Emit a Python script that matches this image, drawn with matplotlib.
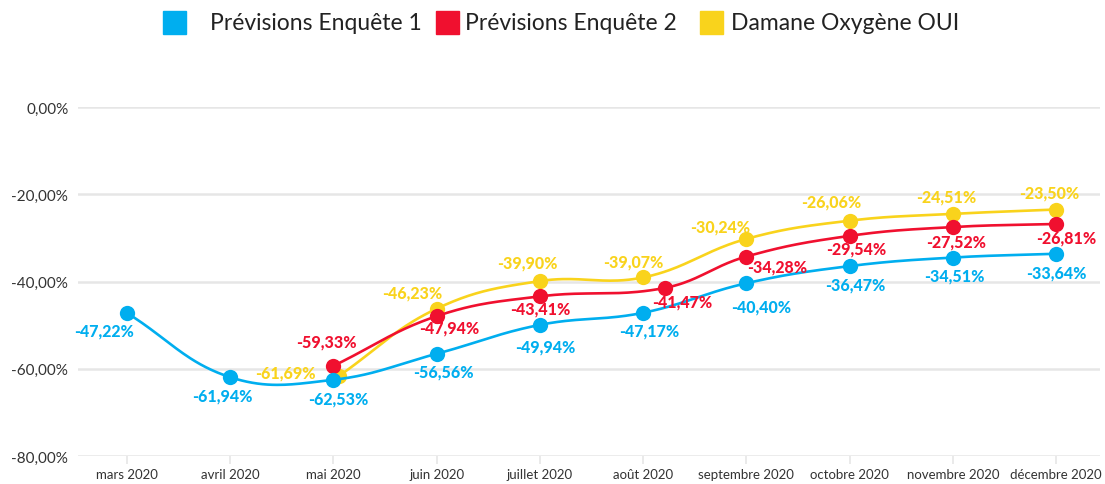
import numpy as np
import matplotlib
matplotlib.use("Agg")
import matplotlib.pyplot as plt
from matplotlib.patches import Rectangle

plt.rcParams['font.family'] = ['Lato', 'DejaVu Sans']

# ---------------- data ----------------
months = ["mars 2020", "avril 2020", "mai 2020", "juin 2020", "juillet 2020",
          "août 2020", "septembre 2020", "octobre 2020", "novembre 2020", "décembre 2020"]

s1_name = "Prévisions Enquête 1"
s1_x = [0, 1, 2, 3, 4, 5, 6, 7, 8, 9]
s1_y = [-47.22, -61.94, -62.53, -56.56, -49.94, -47.17, -40.40, -36.47, -34.51, -33.64]

s2_name = "Prévisions Enquête 2"
s2_x = [2, 3, 4, 5.21, 6, 7, 8, 9]
s2_y = [-59.33, -47.94, -43.41, -41.47, -34.28, -29.54, -27.52, -26.81]

s3_name = "Damane Oxygène OUI"
s3_x = [2.05, 3, 4, 5, 6, 7, 8, 9]
s3_y = [-61.69, -46.23, -39.90, -39.07, -30.24, -26.06, -24.51, -23.50]

y_ticks = [0, -20, -40, -60, -80]

# label offsets in pixels (dx right, dy down)
s1_off = [(-23, 17), (-8, 18), (5, 19), (7, 18), (5, 22), (6, 18), (15, 23), (6, 18), (2, 18), (0, 19)]
s2_off = [(-7, -24), (13, 11), (0, 12), (17, 14), (31, 10), (7, 13), (3, 14), (10, 14)]
s3_off = [(-53, -4), (-24, -16), (-13, -19), (-10, -16), (-26, -12), (-18, -19), (-7, -17), (-7, -17)]

BLUE = "#00AEEF"
RED = "#F0102F"
YELLOW = "#F9D31C"
TXT = "#333333"
GRID = "#E6E6E6"

W, H = 1105, 485
fig = plt.figure(figsize=(W / 100, H / 100), dpi=100)
ax_l, ax_r, ax_t, ax_b = 78, 1100, 108, 457
ax = fig.add_axes([ax_l / W, 1 - ax_b / H, (ax_r - ax_l) / W, (ax_b - ax_t) / H])
x0, x1 = -0.475, 9.426
ax.set_xlim(x0, x1)
ax.set_ylim(-80, 0)
for sp in ax.spines.values():
    sp.set_visible(False)

sx = (ax_r - ax_l) / (x1 - x0)   # px per x unit
sy = (ax_b - ax_t) / 80.0        # px per y unit


def spline(xs, ys, t=0.4, n=40):
    px = np.array(xs, float) * sx
    py = np.array(ys, float) * sy
    m = len(px)
    cpn = []
    cpp = []
    for i in range(m):
        pv = (px[max(i - 1, 0)], py[max(i - 1, 0)])
        nx = (px[min(i + 1, m - 1)], py[min(i + 1, m - 1)])
        d01 = np.hypot(px[i] - pv[0], py[i] - pv[1])
        d12 = np.hypot(nx[0] - px[i], nx[1] - py[i])
        tot = d01 + d12
        s01 = d01 / tot if tot else 0
        s12 = d12 / tot if tot else 0
        fa, fb = t * s01, t * s12
        cpp.append((px[i] - fa * (nx[0] - pv[0]), py[i] - fa * (nx[1] - pv[1])))
        cpn.append((px[i] + fb * (nx[0] - pv[0]), py[i] + fb * (nx[1] - pv[1])))
    outx, outy = [], []
    tt = np.linspace(0, 1, n)
    for i in range(m - 1):
        P0 = np.array([px[i], py[i]])
        P1 = np.array(cpn[i])
        P2 = np.array(cpp[i + 1])
        P3 = np.array([px[i + 1], py[i + 1]])
        pts = ((1 - tt)[:, None] ** 3 * P0 + 3 * ((1 - tt) ** 2 * tt)[:, None] * P1
               + 3 * ((1 - tt) * tt ** 2)[:, None] * P2 + (tt ** 3)[:, None] * P3)
        outx.extend(pts[:, 0])
        outy.extend(pts[:, 1])
    return np.array(outx) / sx, np.array(outy) / sy


# grid lines
for yt in y_ticks:
    ax.axhline(yt, color=GRID, lw=1.8, zorder=0)

ax.set_yticks(y_ticks)
ax.set_yticklabels([f"{v:,.2f}%".replace(".", ",") for v in y_ticks])
ax.tick_params(axis='y', length=0, pad=7, labelsize=11, labelcolor=TXT)
ax.set_xticks(range(len(months)))
ax.set_xticklabels(months)
ax.tick_params(axis='x', length=6, width=1.2, color=GRID, pad=3, labelsize=9.5, labelcolor=TXT)

series = [
    (s3_x, s3_y, YELLOW, s3_off, 3),
    (s2_x, s2_y, RED, s2_off, 4),
    (s1_x, s1_y, BLUE, s1_off, 5),
]
for xs, ys, col, offs, z in series:
    cx, cy = spline(xs, ys)
    ax.plot(cx, cy, color=col, lw=1.9, zorder=z, solid_capstyle='round', clip_on=False)
    ax.plot(xs, ys, 'o', color=col, ms=11, mec='none', zorder=z + 0.5, clip_on=False)

for xs, ys, col, offs, z in series:
    for x, y, (dx, dy) in zip(xs, ys, offs):
        lbl = f"{y:.2f}%".replace(".", ",")
        ax.annotate(lbl, (x, y), xytext=(dx, -dy), textcoords='offset pixels',
                    ha='center', va='center', color=col, fontsize=11.5, fontweight='black',
                    zorder=10, annotation_clip=False)

# legend (manual)
legend = [(163, 210, BLUE, s1_name), (436, 465, RED, s2_name), (700, 731, YELLOW, s3_name)]
for sq_x, tx, col, name in legend:
    fig.patches.append(Rectangle((sq_x / W, 1 - 35 / H), 23 / W, 23 / H,
                                 transform=fig.transFigure, color=col, zorder=5))
    fig.text(tx / W, 1 - 23 / H, name, ha='left', va='center', fontsize=16.5, color="#222222")

fig.savefig("out.png", dpi=100)
